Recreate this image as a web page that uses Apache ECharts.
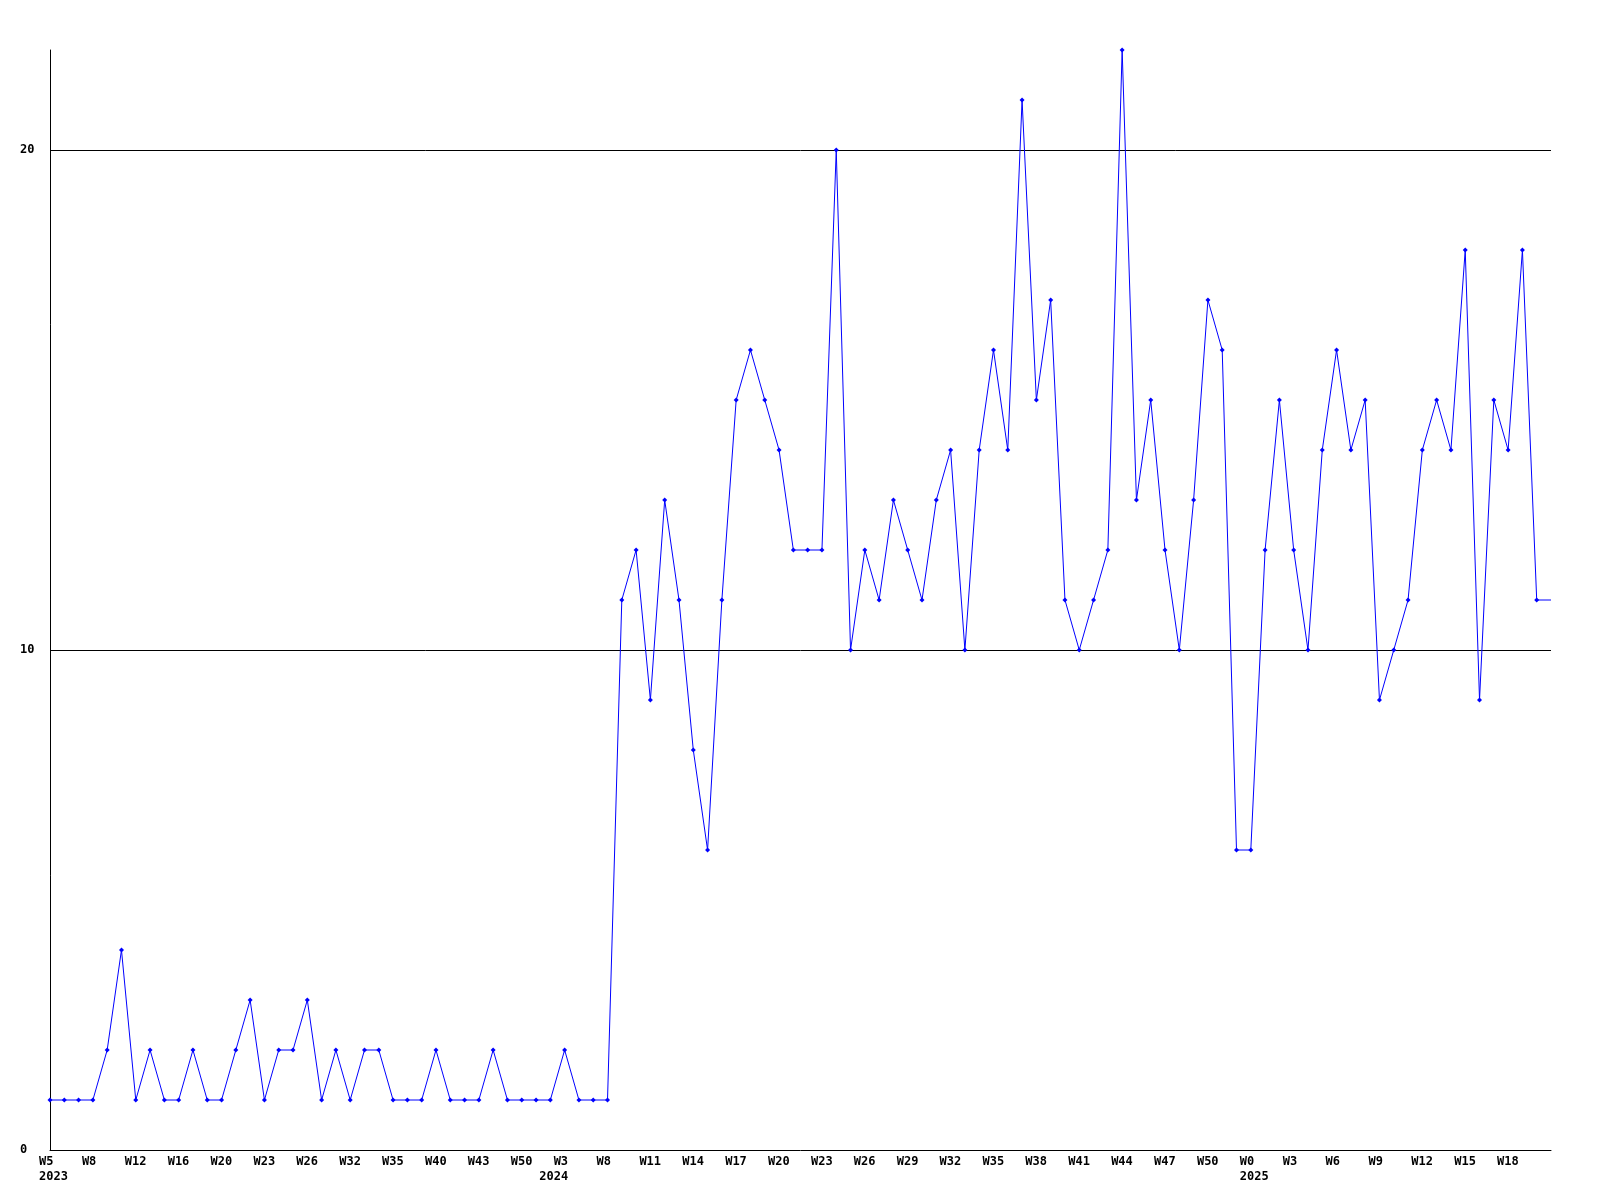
<!DOCTYPE html>
<html><head><meta charset="utf-8">
<script src="https://cdn.jsdelivr.net/npm/echarts@6/dist/echarts.min.js"></script>
<style>html,body{margin:0;padding:0;background:#fff}#c{width:1600px;height:1200px}</style>
</head><body><div id="c"></div>
<script>
// weekly values (last entry is the open, unmarked extension to the right edge)
const values = [
  1,1,1,1,2,4,1,2,1,1,
  2,1,1,2,3,1,2,2,3,1,
  2,1,2,2,1,1,1,2,1,1,
  1,2,1,1,1,1,2,1,1,1,
  11,12,9,13,11,8,6,11,15,16,
  15,14,12,12,12,20,10,12,11,13,
  12,11,13,14,10,14,16,14,21,15,
  17,11,10,11,12,22,13,15,12,10,
  13,17,16,6,6,12,15,12,10,14,
  16,14,15,9,10,11,14,15,14,18,
  9,15,14,18,11,
  11
];
// tick labels, one for every third point
const weekLabels = ['W5','W8','W12','W16','W20','W23','W26','W32','W35','W40','W43','W50',
  'W3','W8','W11','W14','W17','W20','W23','W26','W29','W32','W35','W38','W41','W44','W47','W50',
  'W0','W3','W6','W9','W12','W15','W18'];
const yearLabels = ['2023','2024','2025'];
const yearIndex = [0,35,84];
const labelStep = 3;

const categories = values.map((v,i)=> (i % labelStep === 0 && weekLabels[i/labelStep]) ? weekLabels[i/labelStep] : '');
const yearCats = values.map((v,i)=> { const k = yearIndex.indexOf(i); return k >= 0 ? yearLabels[k] : ''; });
const seriesData = values.map((v,i)=> i === values.length-1 ? {value:v, symbol:'none'} : v);

const font = {fontFamily:'DejaVu Sans Mono', fontWeight:'bold', fontSize:12, color:'#000'};
const chart = echarts.init(document.getElementById('c'), null, {renderer:'canvas'});
chart.setOption({
  animation:false,
  backgroundColor:'#fff',
  grid:{left:50, right:49, top:50, bottom:50, containLabel:false},
  xAxis:[{
    type:'category', data:categories, boundaryGap:false, position:'bottom',
    axisLine:{show:true, lineStyle:{color:'#000', width:1}},
    axisTick:{show:false},
    splitLine:{show:false},
    axisLabel:Object.assign({interval:0, align:'left', margin:6, padding:[0,0,0,-11], hideOverlap:false}, font)
  },{
    type:'category', data:yearCats, boundaryGap:false, position:'bottom', offset:0,
    axisLine:{show:false}, axisTick:{show:false}, splitLine:{show:false},
    axisLabel:Object.assign({interval:0, align:'left', margin:21, padding:[0,0,0,-11], hideOverlap:false}, font)
  }],
  yAxis:{
    type:'value', min:0, max:22, interval:10,
    axisLine:{show:true, lineStyle:{color:'#000', width:1}},
    axisTick:{show:false},
    splitLine:{show:true, showMinLine:false, showMaxLine:false, lineStyle:{color:'#000', width:1}},
    axisLabel:Object.assign({align:'left', margin:30, showMaxLabel:false,
      formatter:(v)=> (v % 10 === 0 ? String(v) : '')}, font)
  },
  series:[{
    type:'line', xAxisIndex:0, data:seriesData,
    symbol:'diamond', symbolSize:5, showAllSymbol:true,
    lineStyle:{color:'#0000ff', width:1},
    itemStyle:{color:'#0000ff'},
    emphasis:{disabled:true}
  }]
});
</script></body></html>
